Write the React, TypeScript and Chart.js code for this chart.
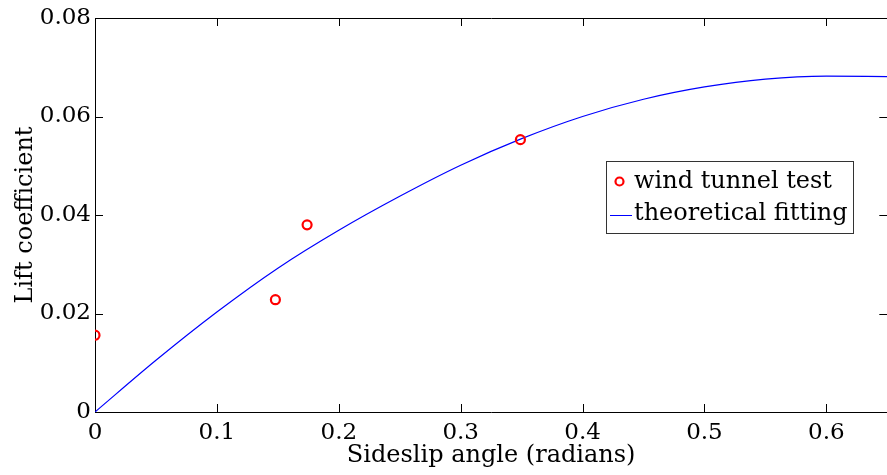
import React, { useEffect, useRef } from "react";
import { Chart, registerables } from "chart.js";

Chart.register(...registerables);

// Measured data (wind tunnel test)
const testAngles = [0, 0.148, 0.174, 0.349];
const testLift = [0.0156, 0.0228, 0.038, 0.0553];

// Theoretical fitting curve
const fitAngles = [0, 0.05, 0.1, 0.15, 0.2, 0.25, 0.3, 0.35, 0.4, 0.45, 0.5, 0.55, 0.6, 0.65];
const fitLift = [0, 0.0105, 0.0203, 0.0292, 0.0369, 0.0438, 0.0501, 0.0555, 0.06, 0.0635, 0.066, 0.0676, 0.0682, 0.0681];

const xTickStep = 0.1;
const yTickStep = 0.02;
const xMax = 0.65;
const yMax = 0.08;

const seriesLabels = ["wind tunnel test", "theoretical fitting"];
const xTitle = "Sideslip angle (radians)";
const yTitle = "Lift coefficient";

const FONT = "'DejaVu Serif', serif";

const fmt = (v: number, d: number) => (Math.abs(v) < 1e-9 ? "0" : v.toFixed(d));

const framePlugin = {
  id: "frame",
  beforeDatasetsDraw(chart: any) {
    const { ctx, chartArea } = chart;
    const { left, right, top, bottom } = chartArea;
    const xs = chart.scales.x;
    const ys = chart.scales.y;
    const tl = 8;
    ctx.save();
    ctx.strokeStyle = "#000";
    ctx.lineWidth = 1;
    ctx.beginPath();
    ctx.rect(left + 0.5, top + 0.5, right - left, bottom - top);
    ctx.stroke();
    ctx.beginPath();
    xs.ticks.forEach((t: any) => {
      const px = Math.round(xs.getPixelForValue(t.value)) + 0.5;
      ctx.moveTo(px, bottom);
      ctx.lineTo(px, bottom - tl);
      ctx.moveTo(px, top);
      ctx.lineTo(px, top + tl);
    });
    ys.ticks.forEach((t: any) => {
      const py = Math.round(ys.getPixelForValue(t.value)) + 0.5;
      ctx.moveTo(left, py);
      ctx.lineTo(left + tl, py);
      ctx.moveTo(right, py);
      ctx.lineTo(right - tl, py);
    });
    ctx.stroke();
    ctx.restore();
  },
  afterDraw(chart: any) {
    const { ctx } = chart;
    const ds = chart.data.datasets;
    const bx = 606,
      by = 161,
      bw = 247,
      bh = 72;
    ctx.save();
    ctx.fillStyle = "#fff";
    ctx.fillRect(bx, by, bw, bh);
    ctx.strokeStyle = "#333";
    ctx.lineWidth = 1;
    ctx.strokeRect(bx + 0.5, by + 0.5, bw, bh);
    // row 1: marker
    ctx.beginPath();
    ctx.arc(619.5, 181.5, 4, 0, Math.PI * 2);
    ctx.strokeStyle = ds[0].borderColor;
    ctx.lineWidth = 2.2;
    ctx.stroke();
    // row 2: line
    ctx.beginPath();
    ctx.moveTo(610, 215.5);
    ctx.lineTo(632, 215.5);
    ctx.strokeStyle = ds[1].borderColor;
    ctx.lineWidth = 1;
    ctx.stroke();
    ctx.fillStyle = "#000";
    ctx.font = `24px ${FONT}`;
    ctx.textBaseline = "middle";
    ctx.textAlign = "left";
    ctx.fillText(ds[0].label, 634, 182);
    ctx.fillText(ds[1].label, 634, 214);
    ctx.restore();
  },
};

export default function App() {
  const ref = useRef<HTMLCanvasElement | null>(null);
  useEffect(() => {
    if (!ref.current) return;
    const chart = new Chart(ref.current, {
      type: "scatter",
      data: {
        datasets: [
          {
            label: seriesLabels[0],
            data: testAngles.map((x, i) => ({ x, y: testLift[i] })),
            borderColor: "#ff0000",
            backgroundColor: "rgba(0,0,0,0)",
            pointRadius: 4.5,
            pointBorderWidth: 2.2,
            showLine: false,
            order: 0,
          },
          {
            label: seriesLabels[1],
            data: fitAngles.map((x, i) => ({ x, y: fitLift[i] })),
            borderColor: "#0000ff",
            backgroundColor: "#0000ff",
            borderWidth: 1.2,
            pointRadius: 0,
            showLine: true,
            cubicInterpolationMode: "monotone",
            order: 1,
          },
        ],
      },
      options: {
        responsive: false,
        animation: false,
        layout: { padding: { top: 18, right: 1, left: 0, bottom: 0 } },
        plugins: { legend: { display: false }, tooltip: { enabled: false } },
        scales: {
          x: {
            type: "linear",
            min: 0,
            max: xMax,
            grid: { display: false, drawTicks: false },
            border: { display: false },
            ticks: {
              stepSize: xTickStep,
              includeBounds: false,
              padding: 10,
              color: "#000",
              font: { family: FONT, size: 23, lineHeight: 1 },
              maxRotation: 0,
              autoSkip: false,
              callback: (v: any) => fmt(Number(v), 1),
            },
            title: {
              display: true,
              text: xTitle,
              color: "#000",
              font: { family: FONT, size: 24, lineHeight: 1 },
              padding: { top: 0, bottom: 7 },
            },
            afterFit: (s: any) => {
              s.height = 63;
            },
          },
          y: {
            type: "linear",
            min: 0,
            max: yMax,
            grid: { display: false, drawTicks: false },
            border: { display: false },
            ticks: {
              stepSize: yTickStep,
              includeBounds: false,
              padding: 4,
              color: "#000",
              font: { family: FONT, size: 23, lineHeight: 1 },
              autoSkip: false,
              callback: (v: any) => fmt(Number(v), 2),
            },
            title: {
              display: true,
              text: yTitle,
              color: "#000",
              font: { family: FONT, size: 24, lineHeight: 1 },
              padding: { top: 14, bottom: 0 },
            },
            afterFit: (s: any) => {
              s.width = 95;
            },
          },
        },
      },
      plugins: [framePlugin],
    });
    return () => chart.destroy();
  }, []);
  return (
    <div
      style={{
        position: "fixed",
        left: 0,
        top: 0,
        width: 887,
        height: 475,
        overflow: "hidden",
        background: "#fff",
      }}
    >
      <canvas ref={ref} width={894} height={475} style={{ width: 894, height: 475, display: "block" }} />
    </div>
  );
}
